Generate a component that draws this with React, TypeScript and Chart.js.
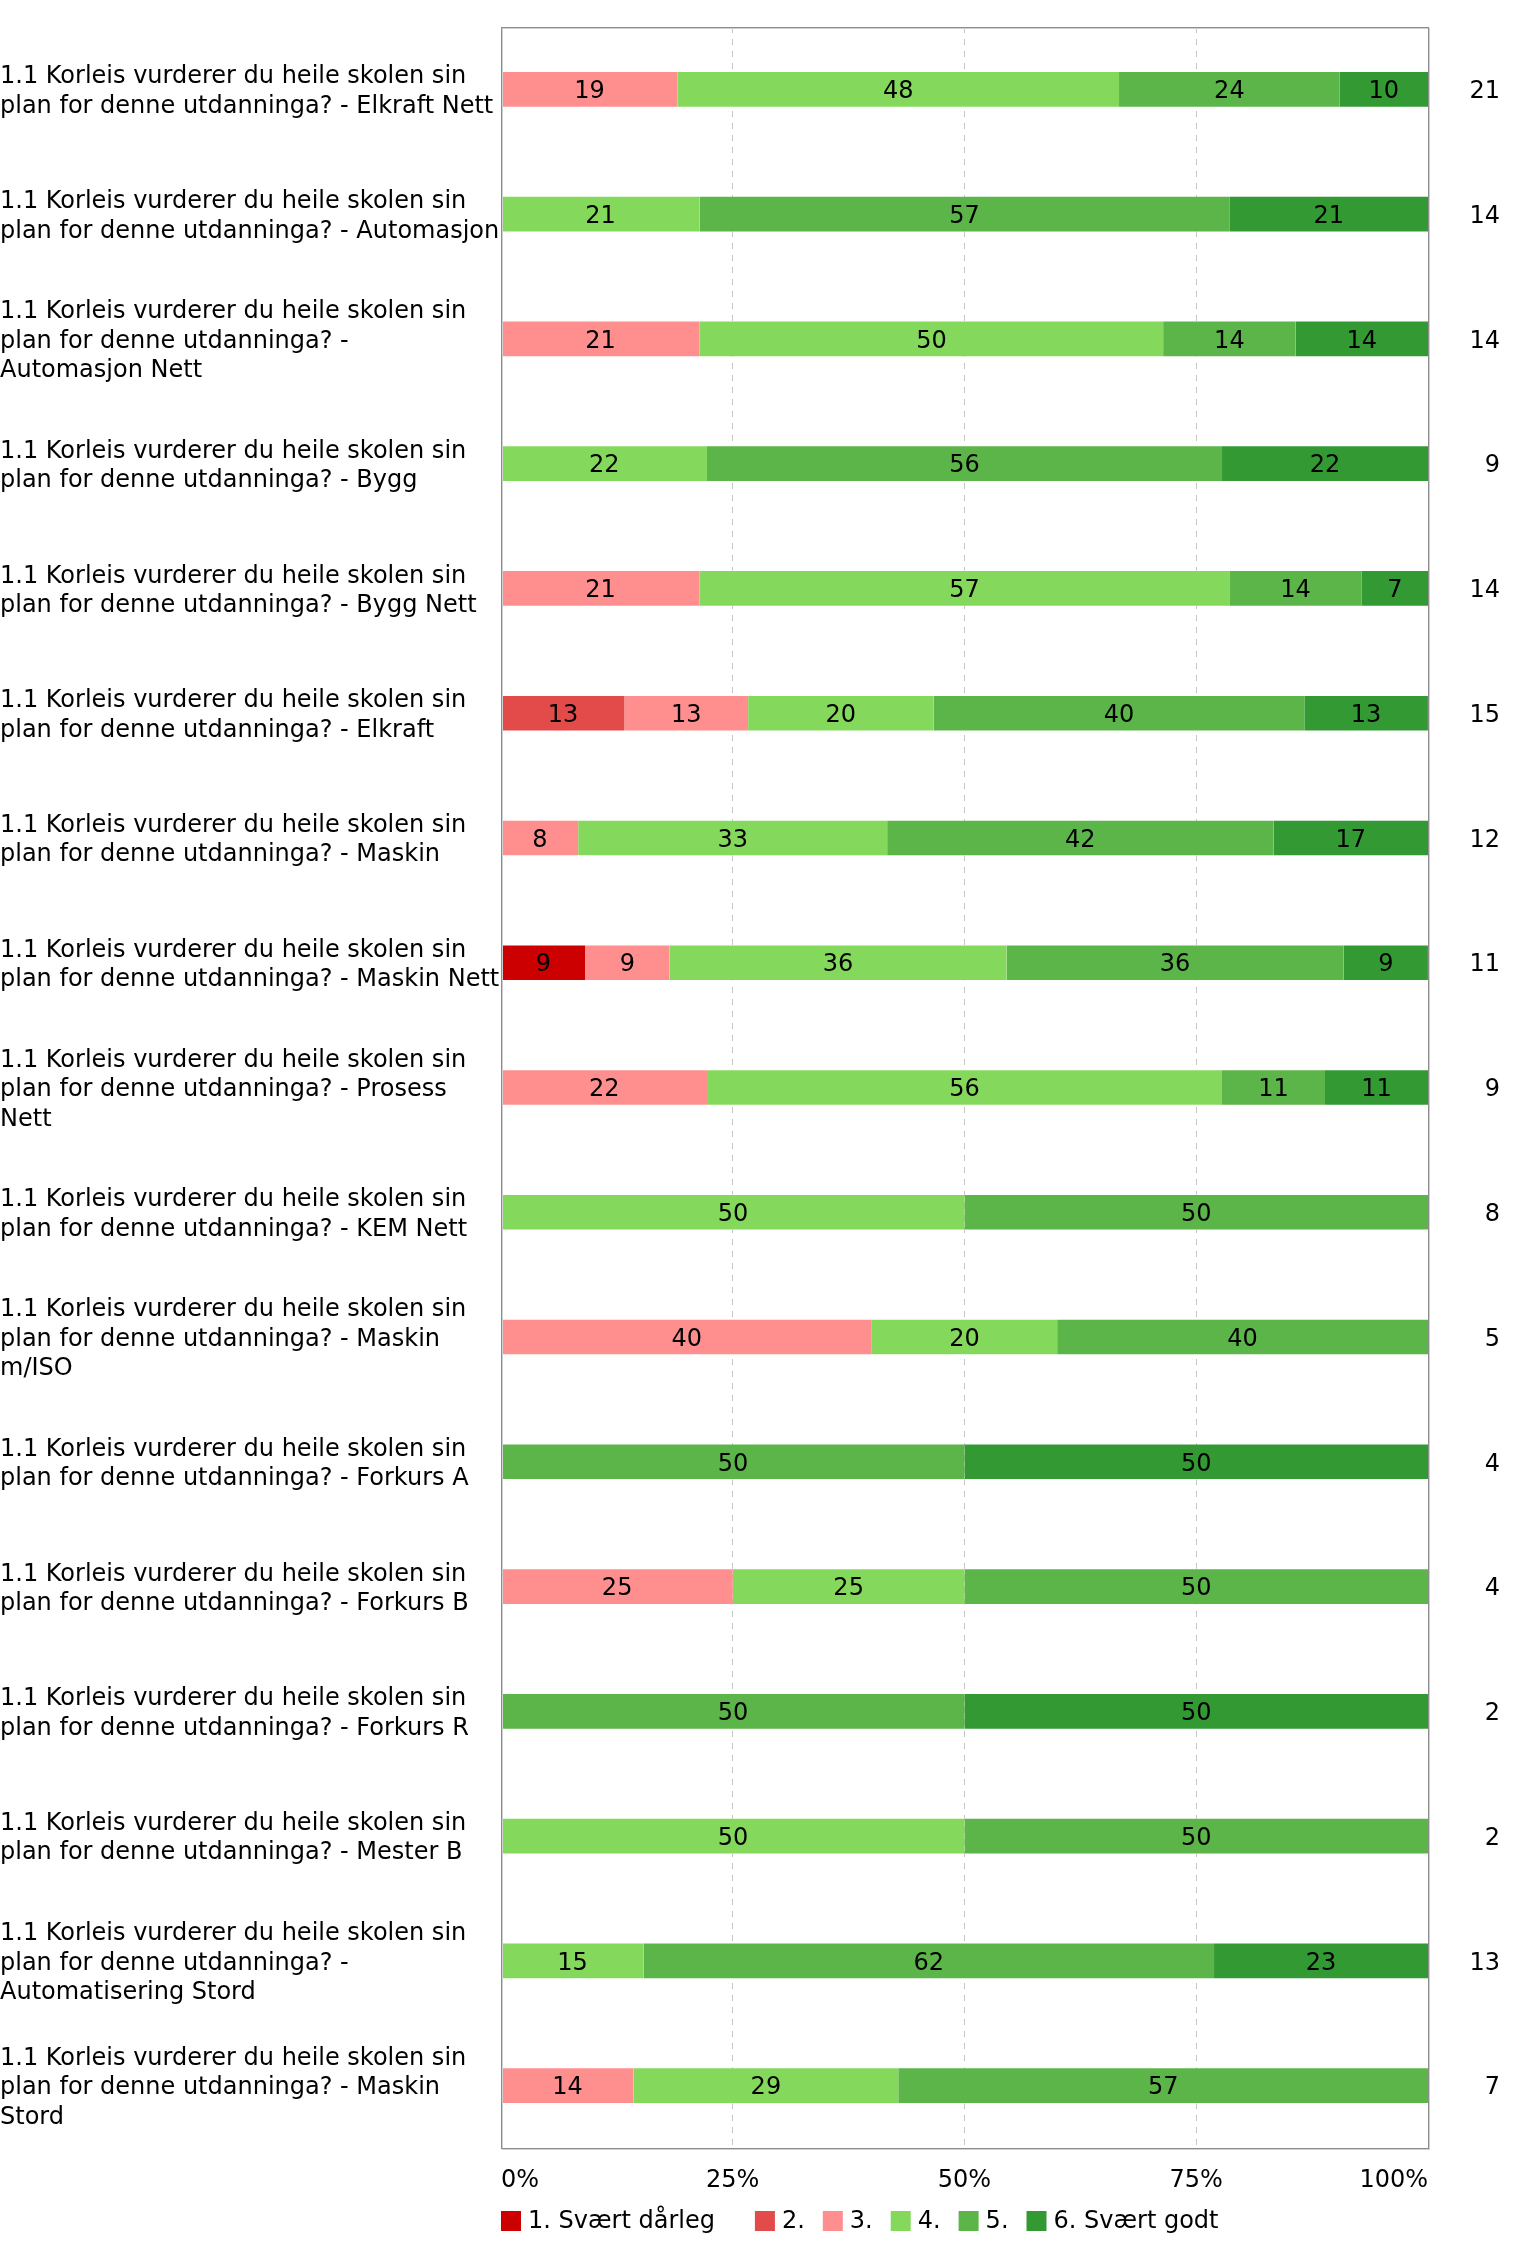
import React, { useEffect, useRef } from "react";
import { Chart, registerables } from "chart.js";

Chart.register(...registerables);

const FONT = "'DejaVu Sans', Verdana, sans-serif";

// Category labels (as wrapped in the original)
const Q = "1.1 Korleis vurderer du heile skolen sin";
const categoryLines: string[][] = [
  [Q, "plan for denne utdanninga? - Elkraft Nett"],
  [Q, "plan for denne utdanninga? - Automasjon"],
  [Q, "plan for denne utdanninga? -", "Automasjon Nett"],
  [Q, "plan for denne utdanninga? - Bygg"],
  [Q, "plan for denne utdanninga? - Bygg Nett"],
  [Q, "plan for denne utdanninga? - Elkraft"],
  [Q, "plan for denne utdanninga? - Maskin"],
  [Q, "plan for denne utdanninga? - Maskin Nett"],
  [Q, "plan for denne utdanninga? - Prosess", "Nett"],
  [Q, "plan for denne utdanninga? - KEM Nett"],
  [Q, "plan for denne utdanninga? - Maskin", "m/ISO"],
  [Q, "plan for denne utdanninga? - Forkurs A"],
  [Q, "plan for denne utdanninga? - Forkurs B"],
  [Q, "plan for denne utdanninga? - Forkurs R"],
  [Q, "plan for denne utdanninga? - Mester B"],
  [Q, "plan for denne utdanninga? -", "Automatisering Stord"],
  [Q, "plan for denne utdanninga? - Maskin", "Stord"],
];

// Number of responses (shown at right)
const responseCounts = [21, 14, 14, 9, 14, 15, 12, 11, 9, 8, 5, 4, 4, 2, 2, 13, 7];

// Series names and colours
const seriesNames = ["1. Svært dårleg", "2.", "3.", "4.", "5.", "6. Svært godt"];
const seriesColors = ["#cc0000", "#e34a4a", "#ff8f8f", "#84d95c", "#5bb548", "#339933"];

// Percent shares per answer (null = no answers)
const svaertDaarleg = [null, null, null, null, null, null, null, 9.09, null, null, null, null, null, null, null, null, null];
const svar2 = [null, null, null, null, null, 13.33, null, null, null, null, null, null, null, null, null, null, null];
const svar3 = [19.05, null, 21.43, null, 21.43, 13.33, 8.33, 9.09, 22.22, null, 40, null, 25, null, null, null, 14.29];
const svar4 = [47.62, 21.43, 50, 22.22, 57.14, 20, 33.33, 36.36, 55.56, 50, 20, null, 25, null, 50, 15.38, 28.57];
const svar5 = [23.81, 57.14, 14.29, 55.56, 14.29, 40, 41.67, 36.36, 11.11, 50, 40, 50, 50, 50, 50, 61.54, 57.14];
const svaertGodt = [9.52, 21.43, 14.29, 22.22, 7.14, 13.33, 16.67, 9.09, 11.11, null, null, 50, null, 50, null, 23.08, null];

const seriesValues = [svaertDaarleg, svar2, svar3, svar4, svar5, svaertGodt];

// X axis ticks
const xTickValues = [0, 25, 50, 75, 100];

const W = 1518;
const H = 2241;

const segmentLabels = {
  id: "segmentLabels",
  afterDatasetsDraw(chart: any) {
    const ctx = chart.ctx;
    ctx.save();
    ctx.font = `24px ${FONT}`;
    ctx.fillStyle = "#000";
    ctx.textAlign = "center";
    ctx.textBaseline = "middle";
    chart.data.datasets.forEach((ds: any, di: number) => {
      const meta = chart.getDatasetMeta(di);
      meta.data.forEach((el: any, i: number) => {
        const v = ds.data[i];
        if (v == null) return;
        const cx = (el.x + el.base) / 2;
        ctx.fillText(String(Math.round(v)), cx, el.y + 2.5);
      });
    });
    ctx.restore();
  },
};

const plotFrame = {
  id: "plotFrame",
  afterDraw(chart: any) {
    const { left, top, right, bottom } = chart.chartArea;
    const ctx = chart.ctx;
    ctx.save();
    ctx.lineWidth = 1;
    ctx.strokeStyle = "#d0d0d0";
    ctx.strokeRect(left + 1.5, top + 1.5, right - left, bottom - top);
    ctx.strokeStyle = "#8c8c8c";
    ctx.strokeRect(left + 0.5, top + 0.5, right - left, bottom - top);
    ctx.restore();
  },
};

const legendExtraGap = [22, 0, 0, 0, 0, 0];

const bottomLegend = {
  id: "bottomLegend",
  afterDraw(chart: any) {
    const ctx = chart.ctx;
    const { left } = chart.chartArea;
    const cy = 2221;
    ctx.save();
    ctx.font = `24px ${FONT}`;
    ctx.textBaseline = "middle";
    ctx.textAlign = "left";
    let x = left;
    chart.data.datasets.forEach((ds: any, k: number) => {
      ctx.fillStyle = ds.backgroundColor;
      ctx.fillRect(x, cy - 10, 20, 20);
      ctx.fillStyle = "#000";
      ctx.fillText(ds.label, x + 27, cy + 1);
      x += 27 + ctx.measureText(ds.label).width + 18 + legendExtraGap[k];
    });
    ctx.restore();
  },
};

export default function App() {
  const ref = useRef<HTMLCanvasElement | null>(null);

  useEffect(() => {
    if (!ref.current) return;
    const chart = new Chart(ref.current, {
      type: "bar",
      data: {
        labels: categoryLines,
        datasets: seriesNames.map((name, k) => ({
          label: name,
          data: seriesValues[k],
          backgroundColor: seriesColors[k],
          borderColor: "rgba(255,255,255,0.45)",
          borderWidth: { top: 1, bottom: 1, left: 0, right: 0 },
          borderSkipped: false,
          barThickness: 36,
          yAxisID: "y",
        })),
      },
      options: {
        indexAxis: "y",
        responsive: false,
        animation: false,
        devicePixelRatio: 1,
        layout: { padding: { top: 27, right: 18, bottom: 0, left: 0 } },
        plugins: {
          legend: { display: false },
          tooltip: { enabled: false },
        },
        scales: {
          x: {
            type: "linear",
            stacked: true,
            min: 0,
            max: 100,
            afterBuildTicks(scale: any) {
              scale.ticks = xTickValues.map((v) => ({ value: v }));
            },
            afterFit(scale: any) {
              scale.height = 93;
            },
            grid: {
              drawTicks: false,
              color: (c: any) =>
                c.tick && (c.tick.value === 0 || c.tick.value === 100) ? "rgba(0,0,0,0)" : "#c4c4c4",
              lineWidth: 1,
            },
            border: { display: false, dash: [6, 6] },
            ticks: {
              align: "inner",
              padding: 18,
              color: "#000",
              font: { family: FONT, size: 24 },
              callback: (v: any) => `${v}%`,
            },
          },
          y: {
            type: "category",
            stacked: true,
            position: "left",
            afterFit(scale: any) {
              scale.width = 501;
              scale.paddingTop = 0;
              scale.paddingBottom = 0;
            },
            grid: { display: false },
            border: { display: false },
            ticks: {
              crossAlign: "far",
              padding: 0,
              labelOffset: 2.5,
              color: "#000",
              autoSkip: false,
              font: { family: FONT, size: 24, lineHeight: 1.22 },
            },
          },
          y2: {
            type: "category",
            position: "right",
            labels: responseCounts.map(String),
            afterFit(scale: any) {
              scale.width = 72;
              scale.paddingTop = 0;
              scale.paddingBottom = 0;
            },
            grid: { display: false },
            border: { display: false },
            ticks: {
              crossAlign: "far",
              padding: 0,
              labelOffset: 2.5,
              color: "#000",
              autoSkip: false,
              font: { family: FONT, size: 24 },
            },
          },
        },
      },
      plugins: [segmentLabels, plotFrame, bottomLegend],
    } as any);
    return () => chart.destroy();
  }, []);

  return (
    <div style={{ position: "absolute", left: 0, top: 0, width: W, height: H, background: "#fff" }}>
      <canvas ref={ref} width={W} height={H} style={{ display: "block", width: W, height: H }} />
    </div>
  );
}
